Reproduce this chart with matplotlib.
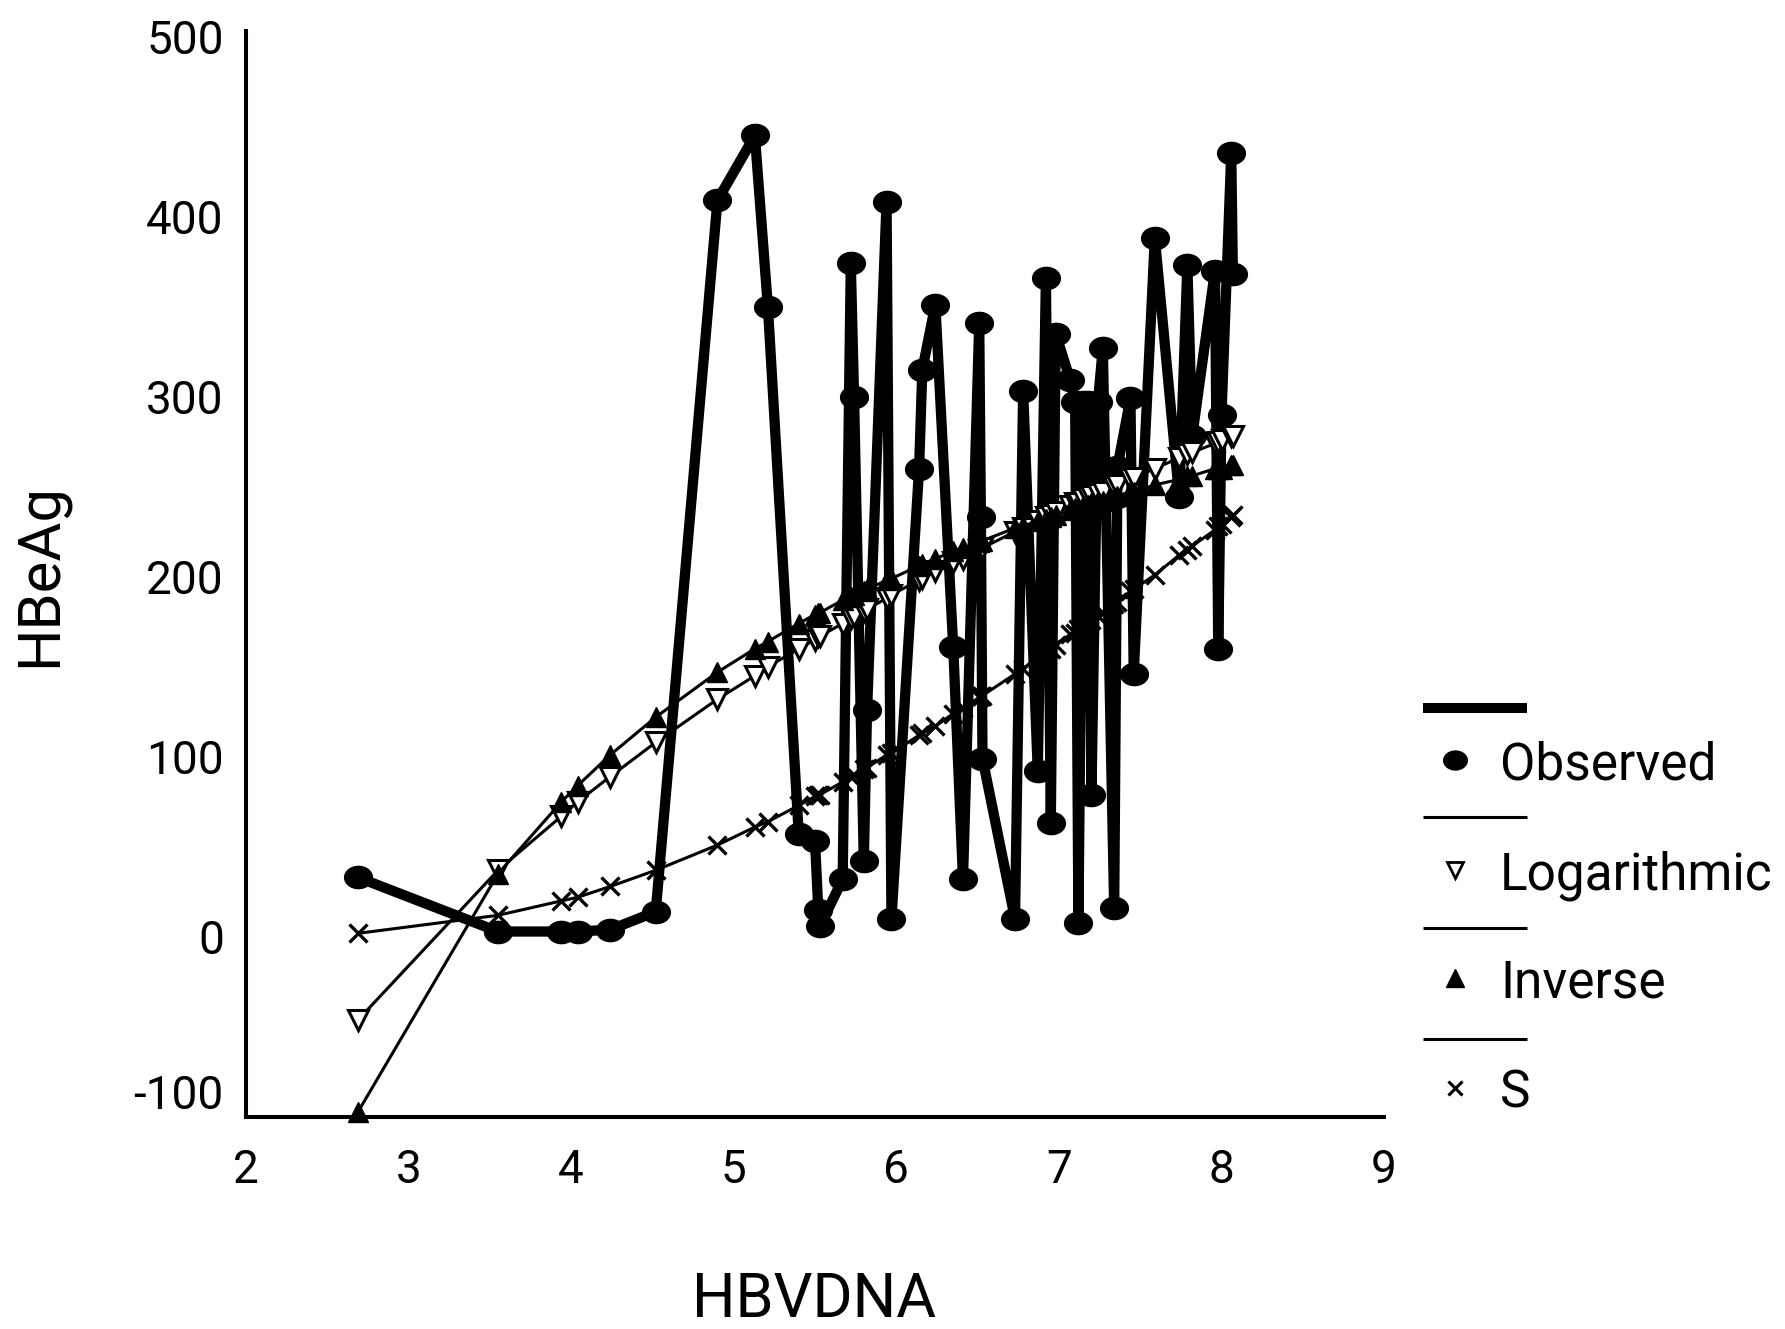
import matplotlib
matplotlib.use("Agg")
import matplotlib.pyplot as plt
from matplotlib.path import Path
from matplotlib.lines import Line2D

plt.rcParams['font.family'] = ['Roboto', 'DejaVu Sans']

# ---- data ----
hbvdna = [2.69, 3.55, 3.94, 4.04, 4.24, 4.52, 4.90, 5.13, 5.21, 5.40,
          5.50, 5.52, 5.53, 5.67, 5.72, 5.74, 5.80, 5.82, 5.94, 5.97,
          6.14, 6.16, 6.24, 6.35, 6.41, 6.51, 6.52, 6.53, 6.73, 6.78,
          6.87, 6.92, 6.95, 6.98, 7.07, 7.10, 7.12, 7.15, 7.18, 7.20,
          7.24, 7.27, 7.34, 7.36, 7.44, 7.46, 7.59, 7.74, 7.79, 7.82,
          7.96, 7.98, 8.00, 8.06, 8.07]
observed = [33, 3, 3, 3, 4, 14, 409, 445, 350, 57,
            53, 15, 6, 32, 374, 300, 42, 126, 408, 10,
            260, 315, 351, 161, 32, 341, 233, 99, 10, 303,
            92, 366, 63, 335, 309, 297, 8, 297, 297, 79,
            297, 327, 16, 261, 299, 146, 388, 244, 373, 278,
            370, 160, 290, 435, 368]
logarithmic = [-46, 37, 67, 75, 89, 108, 132, 145, 150, 160,
               165, 167, 167, 174, 177, 178, 181, 182, 188, 190,
               198, 199, 203, 208, 210, 215, 215, 216, 225, 227,
               231, 233, 234, 236, 239, 241, 241, 243, 244, 245,
               246, 247, 250, 251, 254, 255, 260, 266, 268, 269,
               274, 275, 276, 278, 278]
inverse = [-97, 35, 75, 84, 101, 122, 147, 160, 164, 174,
           179, 180, 180, 187, 189, 190, 192, 193, 198, 199,
           206, 207, 210, 214, 216, 219, 220, 220, 227, 228,
           231, 232, 233, 234, 237, 238, 238, 239, 240, 241,
           242, 242, 244, 245, 247, 247, 251, 254, 256, 256,
           260, 260, 260, 262, 262]
s_curve = [2, 12, 20, 22, 28, 37, 51, 61, 64, 73,
           78, 79, 79, 86, 89, 90, 93, 94, 101, 102,
           112, 113, 117, 124, 127, 133, 134, 134, 146, 149,
           155, 158, 160, 162, 168, 169, 171, 173, 175, 176,
           178, 180, 185, 186, 192, 193, 201, 212, 215, 217,
           226, 228, 229, 233, 234]
x_ticks = [2, 3, 4, 5, 6, 7, 8, 9]
y_ticks = [0, 100, 200, 300, 400, 500]
series_names = ["Observed", "Logarithmic", "Inverse", "S"]

W, H = 1785, 1329
fig = plt.figure(figsize=(W / 100, H / 100), dpi=100)
ax = fig.add_axes([0.1378, 0.1595, 0.7754 - 0.1378, 0.9767 - 0.1595])

circ = Path.unit_circle()
ell = Path(circ.vertices * [1.0, 0.8], circ.codes)

ax.plot(hbvdna, observed, color='black', lw=7.4, marker=ell, ms=20,
        zorder=2, clip_on=False)
ax.plot(hbvdna, logarithmic, color='black', lw=2.2, marker='v', ms=15,
        mfc='white', mec='black', mew=2.2, zorder=3, clip_on=False)
ax.plot(hbvdna, inverse, color='black', lw=2.2, marker='^', ms=15,
        zorder=4, clip_on=False)
ax.plot(hbvdna, s_curve, color='black', lw=2.2, marker='x', ms=13,
        mew=2.4, zorder=5, clip_on=False)

ax.set_xlim(2, 9)
ax.set_ylim(-100, 503)
ax.set_xticks(x_ticks)
ax.set_yticks(y_ticks)
for side in ('top', 'right'):
    ax.spines[side].set_visible(False)
for side in ('left', 'bottom'):
    ax.spines[side].set_linewidth(2.9)
ax.tick_params(axis='both', length=0, labelsize=33)
ax.tick_params(axis='x', pad=22)
ax.tick_params(axis='y', pad=16)
ax.annotate('-100', xy=(0, -100), xycoords=('axes fraction', 'data'),
            xytext=(-16, 15), textcoords='offset points',
            ha='right', va='center', fontsize=33)

fig.text(814 / W, 1 - 1300 / H, 'HBVDNA', ha='center', va='center', fontsize=44)
fig.text(40 / W, 1 - 575 / H, 'HBeAg', ha='center', va='center',
         rotation=90, fontsize=43)

# ---- legend (SPSS style: line sample above marker) ----
def fx(px):
    return px / W

def fy(py):
    return 1 - py / H

lx0, lx1, mx, tx = 1423, 1527, 1455, 1500
line_rows = [(708, 7.2), (817, 2.2), (928, 2.2), (1039, 2.2)]
marker_rows = [760, 870, 978, 1088]
mstyles = [dict(marker=ell, ms=17, color='black'),
           dict(marker='v', ms=12, mfc='white', mec='black', mew=2),
           dict(marker='^', ms=13, color='black'),
           dict(marker='x', ms=10, mew=2.2, color='black')]
for (ly, lw), my, st, name in zip(line_rows, marker_rows, mstyles, series_names):
    fig.add_artist(Line2D([fx(lx0), fx(lx1)], [fy(ly), fy(ly)],
                          transform=fig.transFigure, color='black', lw=lw,
                          solid_capstyle='butt'))
    fig.add_artist(Line2D([fx(mx)], [fy(my)], transform=fig.transFigure,
                          linestyle='none', **st))
    fig.text(fx(tx), fy(my + 6), name, ha='left', va='center', fontsize=37)

fig.savefig('out.png', dpi=100)
